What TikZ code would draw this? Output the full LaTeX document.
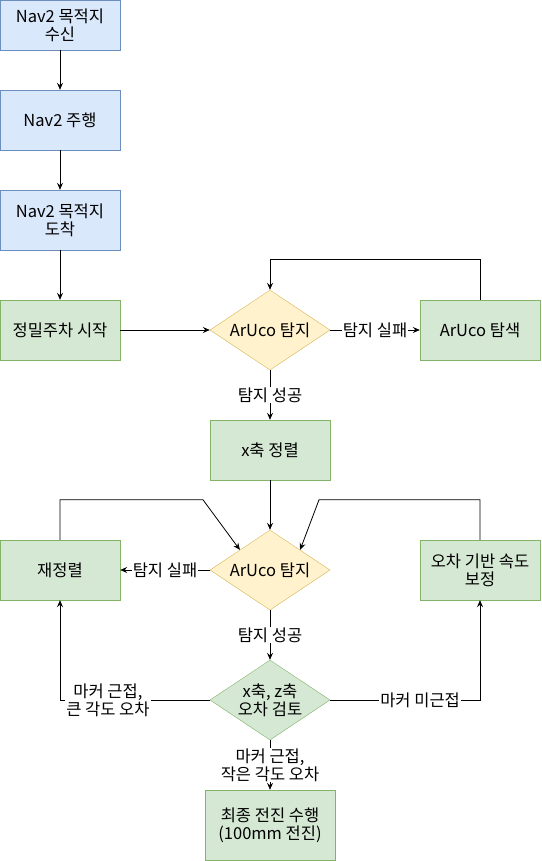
\documentclass[tikz,border=0pt]{standalone}
\usepackage{fontspec}
\setmainfont{Noto Sans CJK KR}
\usetikzlibrary{shapes.geometric, arrows.meta, calc}

\definecolor{bluefill}{HTML}{DAE8FC}
\definecolor{blueline}{HTML}{6C8EBF}
\definecolor{greenfill}{HTML}{D5E8D4}
\definecolor{greenline}{HTML}{82B366}
\definecolor{yellowfill}{HTML}{FFF2CC}
\definecolor{yellowline}{HTML}{D6B656}

\tikzset{
    navbox/.style={draw=blueline, fill=bluefill, minimum width=120pt, minimum height=60pt, align=center, inner sep=2pt},
    greenbox/.style={draw=greenline, fill=greenfill, minimum width=120pt, minimum height=60pt, align=center, inner sep=2pt},
    yellowdiamond/.style={diamond, draw=yellowline, fill=yellowfill, minimum width=120pt, minimum height=80pt, aspect=1.5, inner sep=0pt, align=center},
    greendiamond/.style={diamond, draw=greenline, fill=greenfill, minimum width=120pt, minimum height=80pt, aspect=1.5, inner sep=0pt, align=center},
    elabel/.style={fill=white, inner sep=1pt, align=center},
    flow/.style={-{Stealth[length=7pt, width=6pt, inset=2.5pt]}, line width=0.8pt}
}

\begin{document}
\begin{tikzpicture}[x=1pt, y=-1pt, font=\fontsize{16.5}{18}\selectfont]
    \useasboundingbox (0, 0) rectangle (541, 861);

    % Nav2 stage
    \node (recv_goal) at (60, 25) [navbox, minimum height=50pt] {Nav2 목적지\\수신};
    \node (nav_drive) at (60, 120) [navbox] {Nav2 주행};
    \node (arrive_goal) at (60, 220) [navbox] {Nav2 목적지\\도착};

    % Parking stage
    \node (park_start) at (60, 330) [greenbox] {정밀주차 시작};
    \node (aruco_detect) at (270, 330) [yellowdiamond] {ArUco 탐지};
    \node (aruco_search) at (480, 330) [greenbox] {ArUco 탐색};
    \node (x_align) at (270, 450) [greenbox] {x축 정렬};

    % Correction stage
    \node (aruco_redetect) at (270, 570) [yellowdiamond] {ArUco 탐지};
    \node (realign) at (60, 570) [greenbox] {재정렬};
    \node (speed_correct) at (480, 570) [greenbox] {오차 기반 속도\\보정};
    \node (error_check) at (270, 700) [greendiamond] {x축, z축\\오차 검토};
    \node (final_move) at (270, 825) [greenbox, minimum width=130pt, minimum height=70pt] {최종 전진 수행\\(100mm 전진)};

    \draw [flow] (recv_goal) -- (nav_drive);
    \draw [flow] (nav_drive) -- (arrive_goal);
    \draw [flow] (arrive_goal) -- (park_start);
    \draw [flow] (park_start) -- (aruco_detect);

    \draw [flow] (aruco_detect) -- node [elabel] {탐지 실패} (aruco_search);
    \draw [flow] (aruco_search.north) -- ++(0, -40) -| (aruco_detect.north);
    \draw [flow] (aruco_detect) -- node [elabel] {탐지 성공} (x_align);

    \draw [flow] (x_align) -- (aruco_redetect);
    \draw [flow] (aruco_redetect) -- node [elabel] {탐지 실패} (realign);
    \draw [flow] (realign.north) |- ($(aruco_redetect.north) + (-67, -30)$) 
        -- (aruco_redetect.north west);
    \draw [flow] (speed_correct.north) |- ($(aruco_redetect.north) + (49, -30)$) 
        -- (aruco_redetect.north east);
    \draw [flow] (aruco_redetect) -- node [elabel] {탐지 성공} (error_check);

    \draw [flow] (error_check.west) -- node [elabel, pos=.68] {마커 근접,\\큰 각도 오차} 
        (error_check.west -| realign) -- (realign.south);
    \draw [flow] (error_check.east) -- node [elabel, pos=.6] {마커 미근접} 
        (error_check.east -| speed_correct) -- (speed_correct.south);
    \draw [flow] (error_check) -- node [elabel] {마커 근접,\\작은 각도 오차} (final_move);
\end{tikzpicture}
\end{document}
